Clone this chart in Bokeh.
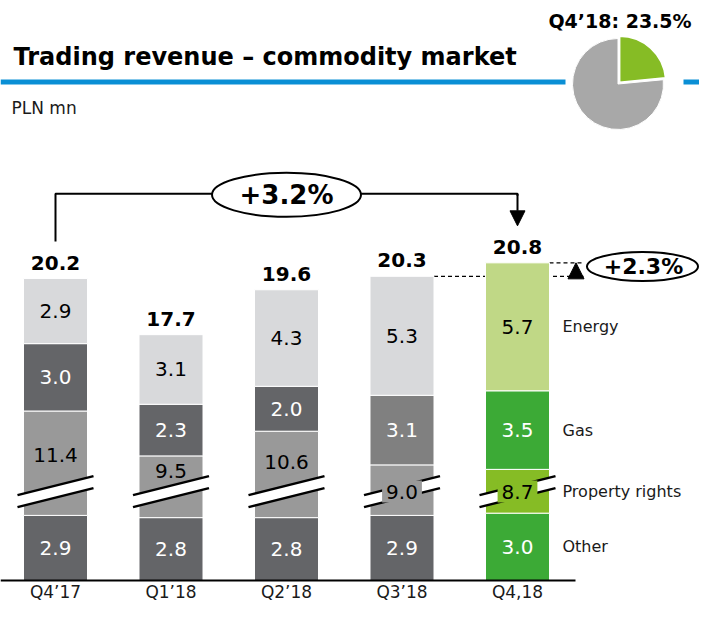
import math
from bokeh.plotting import figure
from bokeh.models import ColumnDataSource, Range1d, Arrow, NormalHead
from bokeh.embed import file_html
from bokeh.resources import INLINE
from bokeh.core.properties import value

# ---------------- data ----------------
quarters = ["Q4’17", "Q1’18", "Q2’18", "Q3’18", "Q4,18"]
other = [2.9, 2.8, 2.8, 2.9, 3.0]
property_rights = [11.4, 9.5, 10.6, 9.0, 8.7]
gas = [3.0, 2.3, 2.0, 3.1, 3.5]
energy = [2.9, 3.1, 4.3, 5.3, 5.7]
totals = [20.2, 17.7, 19.6, 20.3, 20.8]
series_names = ["Other", "Property rights", "Gas", "Energy"]
yoy_change = "+3.2%"
qoq_change = "+2.3%"
pie_quarter = "Q4’18"
pie_share = [23.5, 76.5]
title_text = "Trading revenue – commodity market"
unit_text = "PLN mn"

# ---------------- styles ----------------
DARK = "#646568"
other_colors = [DARK, DARK, DARK, DARK, "#3CAA36"]
pr_colors = ["#999999", "#999999", "#999999", "#999999", "#86BC25"]
gas_colors = [DARK, DARK, DARK, "#808080", "#3CAA36"]
energy_colors = ["#D8D9DB", "#D8D9DB", "#D8D9DB", "#D8D9DB", "#C0D886"]
seg_text_colors = ["white", "black", "white", "black"]
FONT = value("DejaVu Sans")

# ---------------- layout helpers ----------------
W, H = 699, 601
PXX = 115.5    # px per category
PXY = 22.45    # px per value unit
X0, Y0 = 55.0, 580.0   # pixel position of bar 0 centre / baseline


def sx(px):
    return (px - X0) / PXX


def sy(py):
    return (Y0 - py) / PXY


def dxp(px):
    return px / PXX


def dyp(py):
    return py / PXY


p = figure(width=W, height=H, output_backend="svg", toolbar_location=None,
           x_range=Range1d(sx(0), sx(W)), y_range=Range1d(sy(H), sy(0)),
           x_axis_type=None, y_axis_type=None, min_border=0,
           outline_line_color=None, background_fill_color="white",
           border_fill_color="white")

BAR_W = 64 / PXX
BREAK = 6.75            # value hidden by the axis break in the property-rights segment
break_y = 3.96          # display level of the break marks

n = len(quarters)
xs = list(range(n))
disp = [other, [v - BREAK for v in property_rights], gas, energy]
colors = [other_colors, pr_colors, gas_colors, energy_colors]
raw = [other, property_rights, gas, energy]

rows = dict(x=[], bottom=[], top=[], color=[])
lab = dict(x=[], y=[], text=[], color=[])
lab_bg = dict(x=[], y=[], text=[], color=[], bg=[])
tops = []
last_label_y = [0, 0, 0, 0]
for i in xs:
    b = 0.0
    for s in range(4):
        t = b + disp[s][i]
        rows["x"].append(i)
        rows["bottom"].append(b)
        rows["top"].append(t)
        rows["color"].append(colors[s][i])
        ly = (b + t) / 2
        use_bg = False
        if s == 1:
            if t - break_y > 1.3:
                ly = break_y + 0.35 * (t - break_y) + dyp(8.5)
            else:
                ly = break_y
                use_bg = True
        txt = f"{raw[s][i]:.1f}"
        if use_bg:
            lab_bg["x"].append(i); lab_bg["y"].append(ly); lab_bg["text"].append(txt)
            lab_bg["color"].append(seg_text_colors[s]); lab_bg["bg"].append(colors[s][i])
        else:
            lab["x"].append(i); lab["y"].append(ly); lab["text"].append(txt)
            lab["color"].append(seg_text_colors[s])
        if i == n - 1:
            last_label_y[s] = ly
        b = t
    tops.append(b)

# header: blue rule, title, unit, pie
p.segment(x0=[sx(0), sx(683)], y0=[sy(81.5)] * 2, x1=[sx(565), sx(W)], y1=[sy(81.5)] * 2,
          line_color="#0A8FD5", line_width=5)
p.text(x=[sx(13)], y=[sy(56.5)], text=[title_text], text_font=FONT, text_font_style="bold",
       text_font_size="24px", text_align="left", text_baseline="middle", text_color="black")
p.text(x=[sx(11)], y=[sy(107.5)], text=[unit_text], text_font=FONT,
       text_font_size="17px", text_align="left", text_baseline="middle", text_color="#1a1a1a")

pcx, pcy = sx(617.5), sy(83.5)
share_ang = 2 * math.pi * pie_share[0] / 100.0
a_top = math.pi / 2
a_end = a_top - share_ang
p.wedge(x=[pcx], y=[pcy], radius=45.5, radius_units="screen",
        start_angle=[a_top], end_angle=[a_end + 2 * math.pi],
        fill_color="#A8A8A8", line_color="white", line_width=1)
mid = (a_top + a_end) / 2
p.wedge(x=[pcx + dxp(2.5 * math.cos(mid))], y=[pcy + dyp(2.5 * math.sin(mid))], radius=46,
        radius_units="screen", start_angle=[a_end], end_angle=[a_top],
        fill_color="#86BC25", line_color="white", line_width=1.5)
p.text(x=[sx(619.5)], y=[sy(20.5)], text=[f"{pie_quarter}: {pie_share[0]:.1f}%"], text_font=FONT,
       text_font_style="bold", text_font_size="19px", text_align="center",
       text_baseline="middle", text_color="black")

# bracket with yoy change
y_br = max(tops) + dyp(69)
p.line(x=[0, 0, n - 1, n - 1], y=[tops[0] + dyp(37), y_br, y_br, y_br - dyp(2)],
       line_color="black", line_width=2)
p.add_layout(Arrow(end=NormalHead(size=15, fill_color="black", line_color="black"),
                   x_start=n - 1, y_start=y_br, x_end=n - 1, y_end=tops[-1] + dyp(37),
                   line_color="black", line_width=2))
p.ellipse(x=[(n - 1) / 2], y=[y_br - dyp(1)], width=149, height=44, width_units="screen",
          height_units="screen", fill_color="white", line_color="black", line_width=2)
p.text(x=[(n - 1) / 2], y=[y_br - dyp(1)], text=[yoy_change], text_font=FONT, text_font_style="bold",
       text_font_size="26px", text_align="center", text_baseline="middle", text_color="black")

# qoq dashed guides
x_dash_end = sx(583)
p.segment(x0=[n - 2 + BAR_W / 2, n - 1 + BAR_W / 2], y0=[tops[-2], tops[-1]],
          x1=[x_dash_end, x_dash_end], y1=[tops[-2], tops[-1]],
          line_color="black", line_width=1.2, line_dash="4 3")
p.add_layout(Arrow(end=NormalHead(size=16, fill_color="black", line_color="black"),
                   x_start=sx(575.5), y_start=tops[-2] - dyp(4), x_end=sx(575.5), y_end=tops[-1],
                   line_alpha=0))
y_qoq = (tops[-2] + tops[-1]) / 2 + dyp(3)
p.ellipse(x=[sx(642)], y=[y_qoq], width=111, height=29, width_units="screen",
          height_units="screen", fill_color="white", line_color="black", line_width=2)
p.text(x=[sx(643)], y=[y_qoq], text=[qoq_change], text_font=FONT, text_font_style="bold",
       text_font_size="22px", text_align="center", text_baseline="middle", text_color="black")

# bars
p.vbar(x="x", width=BAR_W, bottom="bottom", top="top", fill_color="color",
       line_color="white", line_width=1, source=ColumnDataSource(rows))

# axis break marks
ext = dxp(6)
hr = dyp(9.5)
g = dyp(6)
band_xs, band_ys, lx, ly_ = [], [], [], []
for i in xs:
    xl, xr = i - BAR_W / 2 - ext, i + BAR_W / 2 + ext
    band_xs.append([xl, xr, xr, xl])
    band_ys.append([break_y - hr + g, break_y + hr + g, break_y + hr - g, break_y - hr - g])
    lx += [[xl, xr], [xl, xr]]
    ly_ += [[break_y - hr + g, break_y + hr + g], [break_y - hr - g, break_y + hr - g]]
p.patches(xs=band_xs, ys=band_ys, fill_color="white", line_color=None)
p.multi_line(xs=lx, ys=ly_, line_color="black", line_width=2.5)

# baseline
p.segment(x0=[sx(0)], y0=[0], x1=[sx(575)], y1=[0], line_color="black", line_width=2)

# labels
p.text(x="x", y="y", text="text", text_color="color", source=ColumnDataSource(lab),
       text_font=FONT, text_font_size="20px", text_align="center", text_baseline="middle")
p.text(x="x", y="y", text="text", text_color="color", background_fill_color="bg",
       padding=4, source=ColumnDataSource(lab_bg),
       text_font=FONT, text_font_size="20px", text_align="center", text_baseline="middle")
p.text(x=xs, y=[t + dyp(16) for t in tops], text=[f"{v:.1f}" for v in totals], text_font=FONT,
       text_font_style="bold", text_font_size="20px", text_align="center",
       text_baseline="middle", text_color="black")
p.text(x=[n - 1 + BAR_W / 2 + dxp(13)] * 4, y=last_label_y, text=series_names, text_font=FONT,
       text_font_size="16px", text_align="left", text_baseline="middle", text_color="#1a1a1a")
p.text(x=xs, y=[sy(591)] * n, text=quarters, text_font=FONT, text_font_size="17px",
       text_align="center", text_baseline="middle", text_color="#1a1a1a")

open("out.html", "w").write(file_html(p, INLINE))
